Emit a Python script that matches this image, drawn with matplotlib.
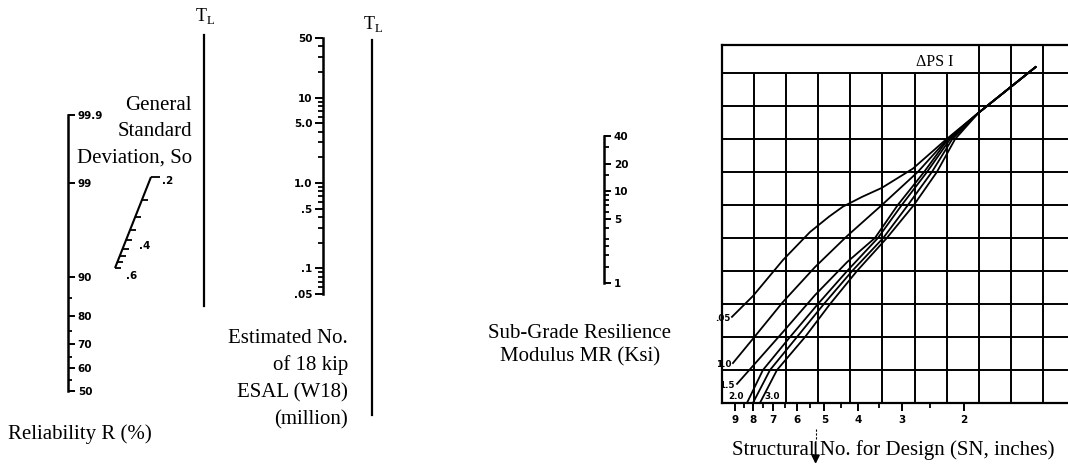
import numpy as np
import matplotlib
matplotlib.use('Agg')
import matplotlib.pyplot as plt
from matplotlib.path import Path
from matplotlib.lines import Line2D
from matplotlib.ticker import NullFormatter
from statistics import NormalDist

# ---------------- data ----------------
reliability_major = [50, 60, 70, 80, 90, 99, 99.9]
reliability_labels = ['50', '60', '70', '80', '90', '99', '99.9']
reliability_minor = [55, 65, 75, 85]

so_ticks = [0.2, 0.25, 0.3, 0.35, 0.4, 0.45, 0.5, 0.55, 0.6]
so_labelled = [0.2, 0.4, 0.6]
so_labels = ['.2', '.4', '.6']

esal_major = [0.05, 0.1, 0.5, 1, 5, 10, 50]
esal_labels = ['.05', '.1', '.5', '1.0', '5.0', '10', '50']
esal_minor = [0.06, 0.07, 0.08, 0.09, 0.2, 0.3, 0.4, 0.6, 0.7, 0.8, 0.9,
              2, 3, 4, 6, 7, 8, 9, 20, 30, 40]

mr_major = [1, 5, 10, 20, 40]
mr_labels = ['1', '5', '10', '20', '40']
mr_minor = [1.5, 2, 2.5, 3, 4, 6, 7, 8, 9, 15, 30]

sn_major = [2, 3, 4, 5, 6, 7, 8, 9]
sn_labels = ['2', '3', '4', '5', '6', '7', '8', '9']
sn_minor = [2.5, 3.5, 4.5, 5.5, 6.5, 7.5, 8.5]

# Delta-PSI curves: structural number (x) vs. turning-line row (y)
dpsi_labels = ['.05', '1.0', '1.5', '2.0', '', '3.0']
sn_05 = [9.18, 8.00, 6.57, 5.50, 4.85, 4.43, 3.90, 3.43, 2.80, 2.27, 1.82, 1.25]
row_05 = [2.61, 3.24, 4.33, 5.18, 5.65, 5.95, 6.25, 6.52, 7.10, 7.95, 8.79, 10.18]
sn_10 = [9.12, 8.05, 6.57, 5.32, 4.31, 3.43, 2.71, 2.25, 1.82, 1.25]
row_10 = [1.21, 1.91, 3.06, 4.12, 5.06, 6.00, 7.00, 7.95, 8.79, 10.18]
sn_15 = [8.88, 8.05, 6.57, 5.32, 4.31, 3.59, 3.09, 2.60, 2.22, 1.82, 1.25]
row_15 = [0.58, 1.09, 2.15, 3.27, 4.27, 5.00, 6.00, 7.00, 8.00, 8.79, 10.18]
sn_20 = [8.32, 7.49, 6.27, 5.22, 4.31, 3.52, 3.01, 2.55, 2.19, 1.82, 1.25]
row_20 = [0, 1, 2, 3, 4, 5, 6, 7, 8, 8.79, 10.18]
sn_25 = [8.00, 7.15, 5.99, 5.02, 4.17, 3.40, 2.89, 2.47, 2.16, 1.82, 1.25]
row_25 = [0, 1, 2, 3, 4, 5, 6, 7, 8, 8.79, 10.18]
sn_30 = [7.64, 6.83, 5.68, 4.82, 4.04, 3.32, 2.78, 2.39, 2.12, 1.82, 1.25]
row_30 = [0, 1, 2, 3, 4, 5, 6, 7, 8, 8.79, 10.18]

example_sn = 5.3

# ---------------- figure ----------------
W, H = 1068, 467
fig = plt.figure(figsize=(W / 100, H / 100), dpi=100)
fig.patch.set_facecolor('white')

SERIF = 'Liberation Serif'
TFONT = dict(family='DejaVu Sans', weight='bold', size=7.5)


def px_axes(x0, y0, x1, y1):
    return fig.add_axes([x0 / W, 1 - y1 / H, (x1 - x0) / W, (y1 - y0) / H])


def ftext(x, y, s, **kw):
    kw.setdefault('family', SERIF)
    kw.setdefault('size', 15)
    kw.setdefault('va', 'baseline')
    fig.text(x / W, 1 - y / H, s, **kw)


def fline(x0, y0, x1, y1, lw=1.6):
    fig.add_artist(Line2D([x0 / W, x1 / W], [1 - y0 / H, 1 - y1 / H],
                          transform=fig.transFigure, color='black', lw=lw))


def only_spine(ax, side):
    ax.patch.set_visible(False)
    for k, s in ax.spines.items():
        s.set_visible(k == side)
        s.set_linewidth(1.8)


def bold_labels(labels):
    for lab in labels:
        lab.set_fontfamily(TFONT['family'])
        lab.set_fontweight('bold')
        lab.set_fontsize(TFONT['size'])


# ---- Reliability scale (normal-deviate scale) ----
nd = NormalDist()


def r_fwd(v):
    v = np.clip(np.asarray(v, float), 1e-6, 100 - 1e-6)
    return np.vectorize(nd.inv_cdf, otypes=[float])(v / 100)


def r_inv(z):
    return 100 * np.vectorize(nd.cdf, otypes=[float])(np.asarray(z, float))


ax_r = px_axes(67, 115, 68, 391)
ax_r.set_yscale('function', functions=(r_fwd, r_inv))
ax_r.set_ylim(50, 99.9)
ax_r.set_xticks([])
only_spine(ax_r, 'right')
ax_r.yaxis.tick_right()
ax_r.set_yticks(reliability_major, reliability_labels)
ax_r.set_yticks(reliability_minor, minor=True)
ax_r.yaxis.set_minor_formatter(NullFormatter())
ax_r.tick_params(axis='y', which='major', direction='out', length=5, width=1.4, pad=2)
ax_r.tick_params(axis='y', which='minor', direction='out', length=3, width=1.3)
bold_labels(ax_r.get_yticklabels())

# ---- Standard deviation (slanted) ----
def s_fwd(v):
    v = np.clip(np.asarray(v, float), 1e-6, None)
    return -v ** -0.5


def s_inv(z):
    z = np.clip(np.asarray(z, float), None, -1e-6)
    return 1.0 / z ** 2


ax_s = px_axes(115, 177, 151, 268)
for setter in (ax_s.set_xscale, ax_s.set_yscale):
    setter('function', functions=(s_fwd, s_inv))
ax_s.set_xlim(0.6, 0.2)
ax_s.set_ylim(0.6, 0.2)
ax_s.set_axis_off()
tick_r = Path([(0, 0), (1, 0)], [Path.MOVETO, Path.LINETO])
ax_s.plot([so_ticks[0], so_ticks[-1]], [so_ticks[0], so_ticks[-1]],
          color='black', lw=1.5, clip_on=False, solid_capstyle='butt')
ax_s.plot(so_ticks[1:-1], so_ticks[1:-1], ls='none', marker=tick_r,
          ms=8, mew=1.3, mec='black', clip_on=False)
ax_s.plot([so_ticks[0]], [so_ticks[0]], ls='none', marker=tick_r,
          ms=13, mew=1.3, mec='black', clip_on=False)
ax_s.plot([so_ticks[-1]], [so_ticks[-1]], ls='none', marker=tick_r,
          ms=8, mew=1.3, mec='black', clip_on=False)
so_offsets = [(8, -3), (9, -4), (8, -6)]
for v, s, off in zip(so_labelled, so_labels, so_offsets):
    ax_s.annotate(s, xy=(v, v), xytext=off, textcoords='offset points',
                  ha='left', va='center', annotation_clip=False, **TFONT)

# ---- ESAL scale ----
ax_e = px_axes(323, 38, 324, 294)
ax_e.set_yscale('log')
ax_e.set_ylim(0.05, 50)
ax_e.set_xticks([])
only_spine(ax_e, 'left')
ax_e.set_yticks(esal_major, esal_labels)
ax_e.set_yticks(esal_minor, minor=True)
ax_e.yaxis.set_minor_formatter(NullFormatter())
ax_e.tick_params(axis='y', which='major', direction='out', length=5.5, width=1.4, pad=2)
ax_e.tick_params(axis='y', which='minor', direction='out', length=3.5, width=1.3)
bold_labels(ax_e.get_yticklabels())

# ---- Resilient modulus scale ----
ax_m = px_axes(603, 136, 604, 283)
ax_m.set_yscale('log')
ax_m.set_ylim(1, 40)
ax_m.set_xticks([])
only_spine(ax_m, 'right')
ax_m.yaxis.tick_right()
ax_m.set_yticks(mr_major, mr_labels)
ax_m.set_yticks(mr_minor, minor=True)
ax_m.yaxis.set_minor_formatter(NullFormatter())
ax_m.tick_params(axis='y', which='major', direction='out', length=5, width=1.4, pad=2)
ax_m.tick_params(axis='y', which='minor', direction='out', length=3.5, width=1.3)
bold_labels(ax_m.get_yticklabels())

# ---- T_L pivot lines ----
fline(204, 35, 204, 306)
fline(372, 40, 372, 415)
ftext(205, 21, r'T$_{\mathregular{L}}$', ha='center', size=13)
ftext(373, 29, r'T$_{\mathregular{L}}$', ha='center', size=13)

# ---- Structural number chart ----
n_cols, n_rows, header = 11, 10, 28 / 33
ax_c = px_axes(722, 45, 1075, 403)
ax_c.set_xlim(0, n_cols)
ax_c.set_ylim(0, n_rows + header)
ax_c.set_xticks([]); ax_c.set_yticks([])
for s in ax_c.spines.values():
    s.set_linewidth(1.6)
ax_c.vlines(np.arange(1, n_cols), 0, n_rows, color='black', lw=1.4)
ax_c.vlines([8, 9, 10], n_rows, n_rows + header, color='black', lw=1.4)
ax_c.hlines(np.arange(1, n_rows + 1), 0, n_cols, color='black', lw=1.4)
ax_c.text(6.05, n_rows + header / 2 - 0.08, 'ΔPS I', family=SERIF, size=11.5,
          ha='left', va='center')

ax_sn = ax_c.twiny()
ax_sn.set_xscale('log')
ax_sn.set_xlim(9.80, 0.965)
for s in ax_sn.spines.values():
    s.set_visible(False)
ax_sn.xaxis.set_ticks_position('bottom')
ax_sn.set_xticks(sn_major, sn_labels)
ax_sn.set_xticks(sn_minor, minor=True)
ax_sn.xaxis.set_minor_formatter(NullFormatter())
ax_sn.tick_params(axis='x', which='major', direction='out', length=6, width=1.4, pad=2.5)
ax_sn.tick_params(axis='x', which='minor', direction='out', length=3.5, width=1.3)
bold_labels(ax_sn.get_xticklabels())

curves = [(sn_05, row_05), (sn_10, row_10), (sn_15, row_15),
          (sn_20, row_20), (sn_25, row_25), (sn_30, row_30)]
label_style = [((-1, -1.5), 'right'), ((-1, -1), 'right'), ((-2, -1), 'right'),
               ((-2, 4.5), 'right'), ((0, 0), 'left'), ((3, 4.5), 'left')]
for (xs, ys), lab, (off, ha) in zip(curves, dpsi_labels, label_style):
    ax_sn.plot(xs, ys, color='black', lw=1.3, solid_joinstyle='round')
    if lab:
        ax_sn.annotate(lab, xy=(xs[0], ys[0]), xytext=off, textcoords='offset points',
                       ha=ha, va='center', annotation_clip=False,
                       family='DejaVu Sans', weight='bold', size=6.3)

ax_sn.plot([example_sn, example_sn], [-0.8, -1.15], color='black', lw=0.8,
           ls=(0, (2, 1.5)), clip_on=False)
ax_sn.annotate('', xy=(example_sn, -1.93), xytext=(example_sn, -1.1),
               arrowprops=dict(arrowstyle='-|>', color='black', lw=1.3, mutation_scale=12),
               annotation_clip=False)

# ---- Axis titles ----
ftext(192, 110, 'General', ha='right')
ftext(192, 136, 'Standard', ha='right')
ftext(192, 163, 'Deviation, So', ha='right')

ftext(348, 343, 'Estimated No.', ha='right')
ftext(348, 370, 'of 18 kip', ha='right')
ftext(348, 397, 'ESAL (W18)', ha='right')
ftext(348, 424, '(million)', ha='right')

ftext(580, 338, 'Sub-Grade Resilience', ha='center')
ftext(580, 361, 'Modulus MR (Ksi)', ha='center')

ftext(8, 439, 'Reliability R (%)', ha='left')
ftext(732, 455, 'Structural No. for Design (SN, inches)', ha='left')

fig.savefig('out.png', dpi=100, facecolor='white')
